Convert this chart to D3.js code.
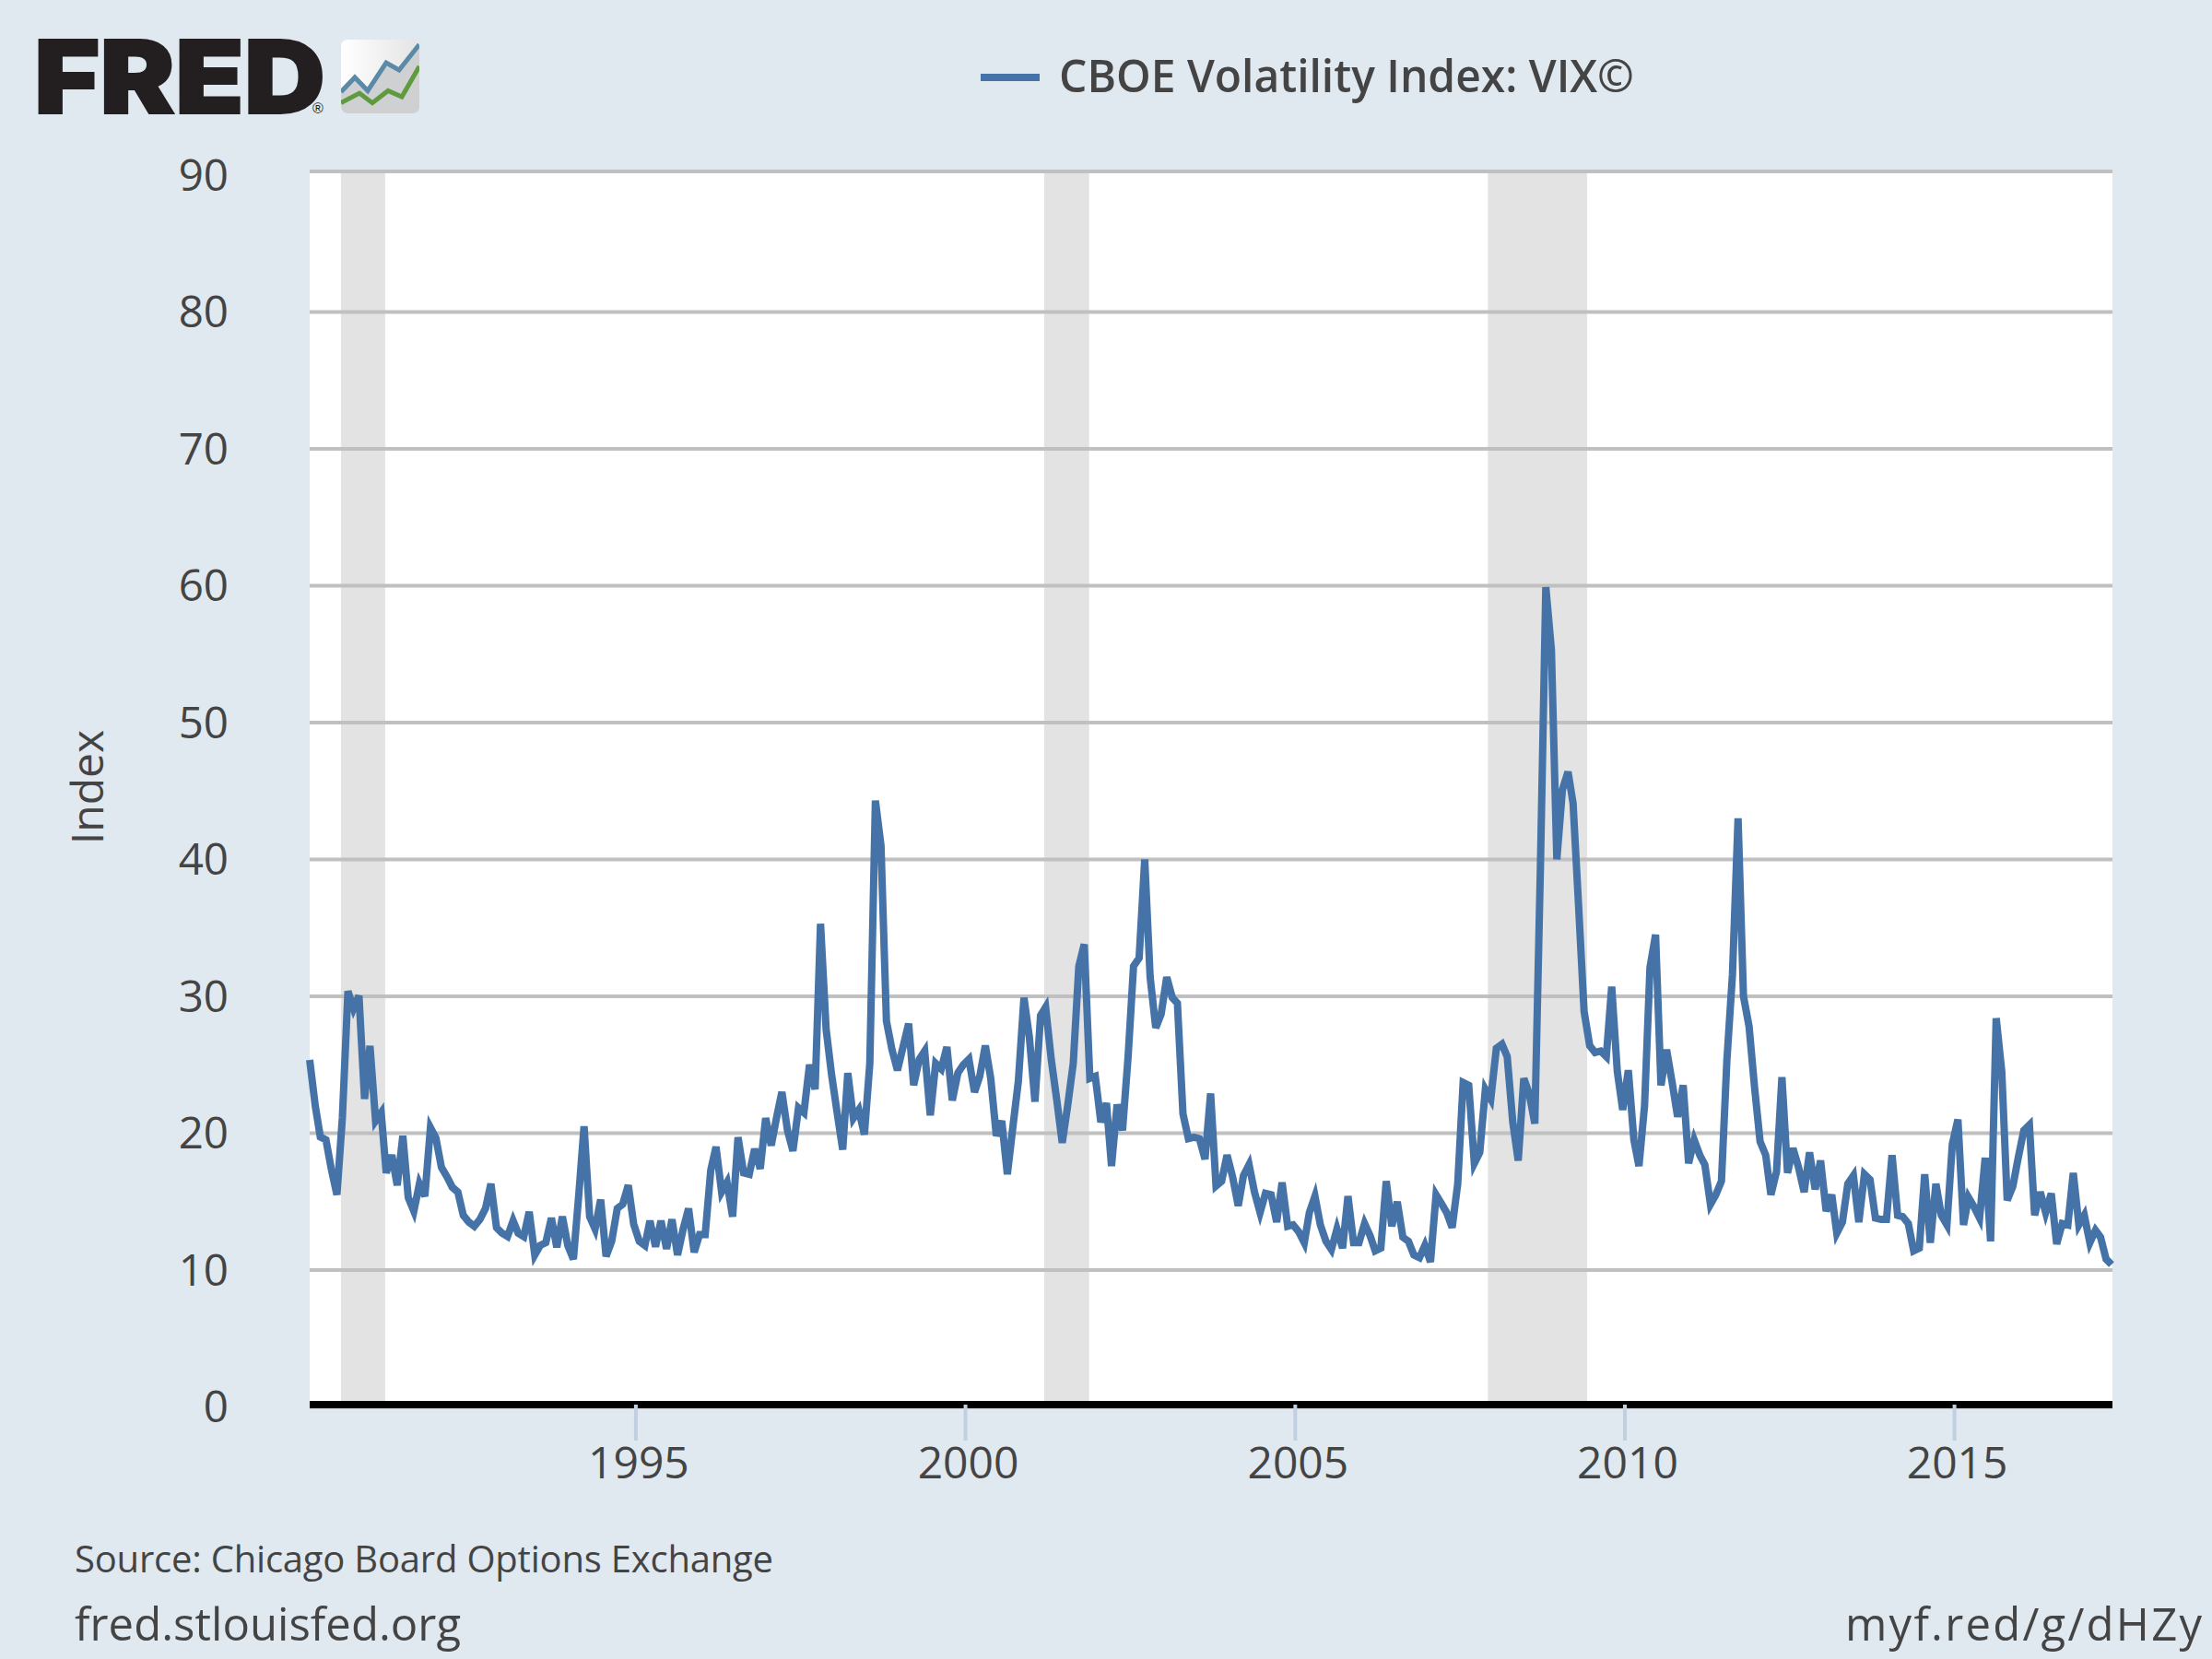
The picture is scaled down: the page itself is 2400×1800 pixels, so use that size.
<!DOCTYPE html>
<html>
<head>
<meta charset="utf-8">
<title>CBOE Volatility Index: VIX</title>
<script src="https://cdn.jsdelivr.net/npm/d3@7"></script>
<style>
  body { margin: 0; background: #e1e9f0; }
  text { font-family: "Open Sans", sans-serif; fill: #444; }
</style>
</head>
<body>
<div id="chart"></div>
<script>
// monthly close, Jan 1990 - May 2017
var vix1990s = [
  25.36,21.99,19.73,19.52,17.37,15.5,21.11,30.38,29.11,30.04,22.5,26.38,
  20.9,21.5,17.1,18.4,16.2,19.8,15.3,14.3,16.3,15.4,20.4,19.65,
  17.5,16.8,16.05,15.7,14,13.5,13.2,13.7,14.5,16.3,13.1,12.7,
  12.45,13.6,12.7,12.45,14.25,11.1,11.8,12,13.8,11.66,13.9,11.8,
  10.8,15.7,20.5,13.9,13,15.15,11,12.1,14.5,14.8,16.2,13.35,
  12.1,11.8,13.6,11.7,13.6,11.55,13.7,11.1,13,14.5,11.3,12.6,
  12.6,17.3,19,15.7,16.4,13.9,19.7,17.1,17,18.85,17.4,21.1,
  19.1,21.25,23,20.2,18.7,21.85,21.5,25,23.2,35.3,27.6,24.3,
  21.5,18.8,24.4,21.1,21.7,19.9,25.1,44.3,41,28.2,26.1,24.6,
  26.3,28,23.5,25.4,26,21.3,25.1,24.7,26.3,22.4,24.4,25
];
var vix2000s = [
  25.4,23,24.15,26.4,24,19.8,20.9,17,20.5,23.8,29.9,27,
  22.3,28.6,29.2,25.4,22.5,19.3,22,25.1,32.2,33.8,24,24.15,
  20.8,22.2,17.6,22.1,20.2,25.6,32.2,32.8,40,31.4,27.7,28.7,
  31.4,29.9,29.5,21.4,19.6,19.7,19.6,18.1,22.9,16.15,16.5,18.4,
  16.8,14.7,16.9,17.7,15.7,14.2,15.6,15.5,13.5,16.4,13.2,13.3,
  12.8,12,14.2,15.4,13.3,12.1,11.5,13,11.6,15.4,12,12,
  13.4,12.5,11.4,11.6,16.5,13.2,15,12.4,12.1,11.1,10.9,11.8,
  10.6,15.5,14.9,14.2,13.1,16.3,23.7,23.5,17.8,18.6,23.2,22.5,
  26.2,26.5,25.6,20.8,18,24,22.9,20.7,39.4,59.9,55.3,40,
  45.1,46.4,44.1,36.5,28.9,26.4,25.9,26,25.6,30.7,24.5,21.7
];
var vix2010s = [
  24.6,19.5,17.6,22,32.1,34.5,23.5,26.1,23.7,21.2,23.5,17.8,
  19.5,18.4,17.7,14.8,15.5,16.5,25.3,31.6,43,30,27.8,23.4,
  19.4,18.4,15.5,17.2,24.1,17.1,18.9,17.5,15.7,18.6,15.9,18,
  14.3,15.5,12.7,13.5,16.3,16.9,13.5,17,16.6,13.8,13.7,13.7,
  18.4,14,13.9,13.4,11.4,11.6,17,12,16.3,14,13.3,19.2,
  21,13.3,15.3,14.6,13.8,18.2,12.1,28.4,24.5,15.1,16.1,18.2,
  20.2,20.6,14,15.7,14.2,15.6,11.9,13.4,13.3,17.1,13.3,14,
  12,12.9,12.4,10.8,10.4
];
var recessionStarts = ["1990-07-12", "2001-03-12", "2007-12-04"];
var recessionEnds = ["1991-03-14", "2001-11-16", "2009-06-06"];
var yTicks = [0, 10, 20, 30, 40, 50, 60, 70, 80, 90];
var xTickYears = [1995, 2000, 2005, 2010, 2015];
var seriesName = "CBOE Volatility Index: VIX\u00a9";
var iconBlue = [[0, 86], [15, 62], [29, 84], [49, 38], [63, 50], [85, 8]];
var iconGreen = [[0, 104], [20, 88], [34, 104], [51, 84], [66, 94], [85, 44]];

var margin = { top: 186, right: 108, bottom: 273.5, left: 336 },
    fullWidth = 2400,
    fullHeight = 1800,
    width = fullWidth - margin.left - margin.right,
    height = fullHeight - margin.top - margin.bottom;

var vix = vix1990s.concat(vix2000s, vix2010s);
// points sit a bit before the month end on FRED's date axis
var data = vix.map(function(v, i) { return { date: new Date(1990, i, 20), value: v }; });
var parseDate = d3.timeParse("%Y-%m-%d");

var svg = d3.select("#chart").append("svg")
    .attr("width", fullWidth)
    .attr("height", fullHeight)
    .style("display", "block");

svg.append("rect").attr("width", fullWidth).attr("height", fullHeight).attr("fill", "#e1e9f0");

var g = svg.append("g")
    .attr("transform", "translate(" + margin.left + "," + margin.top + ")");

g.append("rect").attr("width", width).attr("height", height).attr("fill", "#fff");

var x = d3.scaleTime()
    .domain([data[0].date, data[data.length - 1].date])
    .range([0, width - 1]);

// the 90 line is pushed up to the plot edge below, the labels keep this spacing
var y = d3.scaleLinear()
    .domain([0, 90])
    .range([height, 4]);

// recession bands
g.selectAll(".recession")
    .data(recessionStarts)
    .join("rect")
    .attr("class", "recession")
    .attr("x", function(d) { return x(parseDate(d)); })
    .attr("y", 0)
    .attr("width", function(d, i) { return x(parseDate(recessionEnds[i])) - x(parseDate(d)); })
    .attr("height", height)
    .attr("fill", "#e3e3e3");

// y axis + grid
var yAxis = g.append("g")
    .call(d3.axisLeft(y).tickValues(yTicks).tickSize(-width).tickPadding(88).offset(0));
yAxis.select(".domain").remove();
yAxis.selectAll(".tick line")
    .attr("stroke", "#c0c0c0")
    .attr("stroke-width", 4)
    .filter(function(d) { return d === 90; })
    .attr("transform", "translate(0,-4)");
yAxis.selectAll(".tick text")
    .style("font-size", "47.5px")
    .attr("dy", "0.357em")
    .attr("fill", "#444");

// x axis
var xAxis = g.append("g")
    .attr("transform", "translate(0," + (1524 - margin.top) + ")")
    .call(d3.axisBottom(x)
      .tickValues(xTickYears.map(function(yr) { return new Date(yr, 0, 1); }))
      .tickFormat(d3.timeFormat("%Y"))
      .tickSize(39)
      .tickSizeOuter(0)
      .tickPadding(7)
      .offset(0));
xAxis.selectAll(".tick line").attr("stroke", "#c0d0e0").attr("stroke-width", 4);
xAxis.selectAll(".tick text").style("font-size", "48px").attr("dx", 3).attr("fill", "#444");
xAxis.select(".domain").attr("stroke", "#000").attr("stroke-width", 8).attr("d", "M0,0H" + width);

// the series
var line = d3.line()
    .x(function(d) { return x(d.date); })
    .y(function(d) { return y(d.value); });

g.append("path")
    .datum(data)
    .attr("fill", "none")
    .attr("stroke", "#4572a7")
    .attr("stroke-width", 8)
    .attr("d", line);

// y axis title
svg.append("text")
    .attr("transform", "translate(112,854) rotate(-90)")
    .attr("text-anchor", "middle")
    .style("font-size", "48px")
    .text("Index");

// legend
svg.append("line")
    .attr("x1", 1064).attr("x2", 1128)
    .attr("y1", 84).attr("y2", 84)
    .attr("stroke", "#4572a7").attr("stroke-width", 8);
svg.append("text")
    .attr("x", 1149).attr("y", 100)
    .attr("textLength", 624)
    .attr("lengthAdjust", "spacingAndGlyphs")
    .style("font-size", "49px")
    .style("font-weight", 600)
    .text(seriesName);

// footer
svg.append("text").attr("x", 81).attr("y", 1706)
    .attr("textLength", 758)
    .style("font-size", "40px")
    .text("Source: Chicago Board Options Exchange");
svg.append("text").attr("x", 81).attr("y", 1780)
    .attr("textLength", 419)
    .style("font-size", "49px")
    .text("fred.stlouisfed.org");
svg.append("text").attr("x", 2002).attr("y", 1780)
    .attr("textLength", 387)
    .style("font-size", "49px")
    .text("myf.red/g/dHZy");

// logo
svg.append("text")
    .attr("x", 37).attr("y", 123)
    .attr("textLength", 316)
    .attr("lengthAdjust", "spacingAndGlyphs")
    .style("font-family", "Inter, 'Liberation Sans', sans-serif")
    .style("font-size", "110px")
    .style("font-weight", 900)
    .style("fill", "#231f20")
    .style("stroke", "#231f20")
    .style("stroke-width", 2)
    .text("FRED");
svg.append("text")
    .attr("x", 339).attr("y", 123)
    .style("font-family", "'Liberation Sans', sans-serif")
    .style("font-size", "16px")
    .style("fill", "#231f20")
    .text("\u00ae");

var defs = svg.append("defs");
var grad = defs.append("linearGradient").attr("id", "iconFill");
grad.append("stop").attr("offset", "0%").attr("stop-color", "#fff");
grad.append("stop").attr("offset", "100%").attr("stop-color", "#e4e4e4");

var icon = svg.append("g").attr("transform", "translate(370,43)");
var iconLine = d3.line().x(function(d) { return d[0]; }).y(function(d) { return d[1] * 0.66; });
var iconShape = d3.area()
    .x(function(d) { return d[0]; })
    .y0(80)
    .y1(function(d) { return d[1] * 0.66; });
defs.append("clipPath").attr("id", "iconClip")
  .append("rect").attr("width", 85).attr("height", 80).attr("rx", 7);
var iconG = icon.append("g").attr("clip-path", "url(#iconClip)");
iconG.append("rect").attr("width", 85).attr("height", 80).attr("fill", "url(#iconFill)");
iconG.append("path").attr("d", iconShape(iconBlue)).attr("fill", "#cfd0d2");
iconG.append("path").attr("d", iconLine(iconBlue)).attr("fill", "none").attr("stroke", "#5b8aa8").attr("stroke-width", 5);
iconG.append("path").attr("d", iconLine(iconGreen)).attr("fill", "none").attr("stroke", "#5f9a3f").attr("stroke-width", 5);
</script>
</body>
</html>
